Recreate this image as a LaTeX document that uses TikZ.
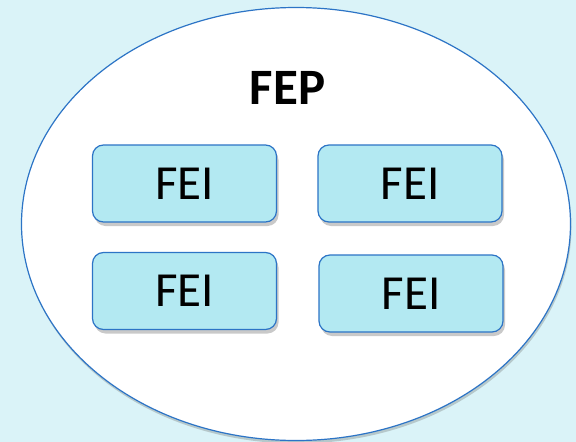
\documentclass[tikz,border=0pt]{standalone}
\usepackage{fontspec}
\setmainfont{Carlito}
\usetikzlibrary{shapes.geometric,shadows}

\definecolor{bgcyan}{HTML}{DAF3F8}
\definecolor{boxcyan}{HTML}{B3E9F2}
\definecolor{edgeblue}{HTML}{2C74C6}

\tikzset{
	feibox/.style={draw=edgeblue, line width=1.2pt, fill=boxcyan, rounded corners=11pt,
		minimum width=184pt, minimum height=77pt, inner sep=0pt,
		font=\fontsize{49}{49}\selectfont,
		drop shadow={shadow xshift=2pt, shadow yshift=-4pt, opacity=0.35, fill=black!60}},
}

\begin{document}
\begin{tikzpicture}[x=1pt, y=-1pt]

\def\width{576}
\def\height{442}

% BACKGROUND
\fill [bgcyan] (0,0) rectangle (\width,\height);
\path [use as bounding box] (0,0) rectangle (\width,\height);

% PLATFORM
\node (fep) [draw=edgeblue, line width=1.2pt, fill=white, ellipse, inner sep=0pt,
	minimum width=549pt, minimum height=433pt,
	drop shadow={shadow xshift=1pt, shadow yshift=-3pt, opacity=0.3, fill=black!60}] at (296,224) {};
\node (fep label) at (287.5,88) {\fontsize{51}{51}\selectfont\bfseries FEP};

% INTERFACES
\node (fei1) [feibox] at (184.5,183.5) {FEI\hspace{9pt}};
\node (fei2) [feibox] at (410,183.5) {FEI\hspace{9pt}};
\node (fei3) [feibox] at (184.5,291) {FEI\hspace{9pt}};
\node (fei4) [feibox] at (411,293.5) {FEI\hspace{9pt}};

\end{tikzpicture}
\end{document}
